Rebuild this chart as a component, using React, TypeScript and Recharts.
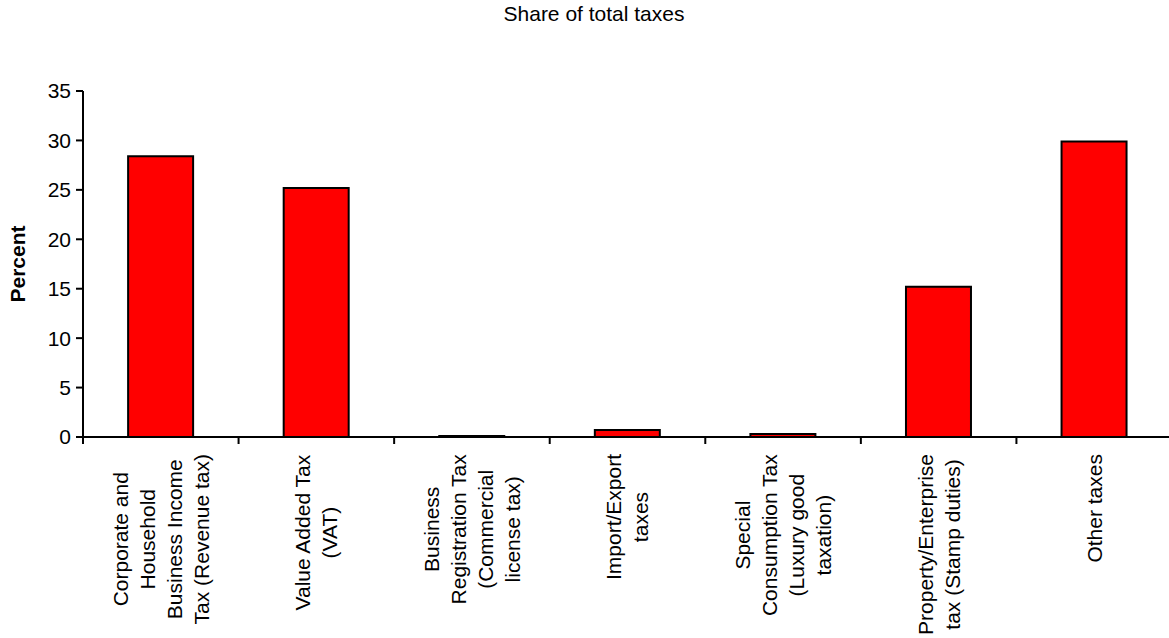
import { Bar, BarChart, XAxis, YAxis } from 'recharts'

const categories = [
  ['Corporate and', 'Household', 'Business Income', 'Tax (Revenue tax)'],
  ['Value Added Tax', '(VAT)'],
  ['Business', 'Registration Tax', '(Commercial', 'license tax)'],
  ['Import/Export', 'taxes'],
  ['Special', 'Consumption Tax', '(Luxury good', 'taxation)'],
  ['Property/Enterprise', 'tax (Stamp duties)'],
  ['Other taxes'],
]
const shares = [28.4, 25.2, 0.1, 0.7, 0.3, 15.2, 29.9]
const yTicks = [0, 5, 10, 15, 20, 25, 30, 35]

const FONT = '"Liberation Sans", Arial, sans-serif'
const LABEL_SIZE = 21
const LINE_GAP = 27
const CHART_W = 1172
const Y_AXIS_W = 83
const BAND = (CHART_W - Y_AXIS_W) / categories.length

const data = categories.map((lines, i) => ({ name: lines.join(' '), idx: i, value: shares[i] }))

let ctx: CanvasRenderingContext2D | null = null
function textWidth(s: string) {
  if (!ctx) ctx = document.createElement('canvas').getContext('2d')
  if (!ctx) return s.length * LABEL_SIZE * 0.5
  ctx.font = `${LABEL_SIZE}px "Liberation Sans"`
  return ctx.measureText(s).width
}

// rotated multi-line label, lines centred on the longest one, block hung from the axis
function CategoryTick(props: any) {
  const { x, y, index } = props
  const lines = categories[index] ?? []
  const longest = Math.max(...lines.map(textWidth))
  const cy = y + 17 + longest / 2
  const start = x - ((lines.length - 1) * LINE_GAP) / 2
  return (
    <g>
      <line x1={x - BAND / 2} y1={y} x2={x - BAND / 2} y2={y + 7} stroke="#000" strokeWidth={2} />
      {lines.map((l, i) => {
        const lx = start + i * LINE_GAP
        return (
          <text
            key={i}
            x={lx}
            y={cy}
            transform={`rotate(-90 ${lx} ${cy})`}
            textAnchor="middle"
            dominantBaseline="central"
            fontSize={LABEL_SIZE}
            fontFamily={FONT}
            fill="#000"
          >
            {l}
          </text>
        )
      })}
    </g>
  )
}

function PercentLabel(props: any) {
  const { viewBox } = props
  const cy = viewBox.y + viewBox.height / 2
  return (
    <text
      x={17}
      y={cy}
      transform={`rotate(-90 17 ${cy})`}
      textAnchor="middle"
      dominantBaseline="central"
      fontSize={21}
      fontWeight="bold"
      fontFamily={FONT}
      fill="#000"
    >
      Percent
    </text>
  )
}

export default function App() {
  return (
    <div
      style={{
        position: 'absolute',
        left: 0,
        top: 0,
        width: 1169,
        height: 638,
        overflow: 'hidden',
        background: '#fff',
        fontFamily: FONT,
      }}
    >
      <div
        style={{
          position: 'absolute',
          top: 2,
          left: 474,
          width: 240,
          textAlign: 'center',
          fontSize: 21,
          color: '#000',
        }}
      >
        Share of total taxes
      </div>
      <BarChart
        width={CHART_W}
        height={638}
        data={data}
        margin={{ top: 91, right: 0, bottom: 0, left: 0 }}
        barCategoryGap="29%"
      >
        <XAxis
          dataKey="name"
          height={201}
          interval={0}
          tickLine={false}
          tickSize={0}
          tickMargin={0}
          axisLine={{ stroke: '#000', strokeWidth: 2 }}
          tick={<CategoryTick />}
        />
        <YAxis
          width={Y_AXIS_W}
          domain={[0, 35]}
          ticks={yTicks}
          interval={0}
          tickSize={7}
          tickMargin={5}
          axisLine={{ stroke: '#000', strokeWidth: 2 }}
          tickLine={{ stroke: '#000', strokeWidth: 2 }}
          tick={{ fill: '#000', fontSize: 21, fontFamily: FONT }}
          label={<PercentLabel />}
        />
        <Bar dataKey="value" fill="#FF0000" stroke="#000" strokeWidth={2} isAnimationActive={false} />
      </BarChart>
    </div>
  )
}
